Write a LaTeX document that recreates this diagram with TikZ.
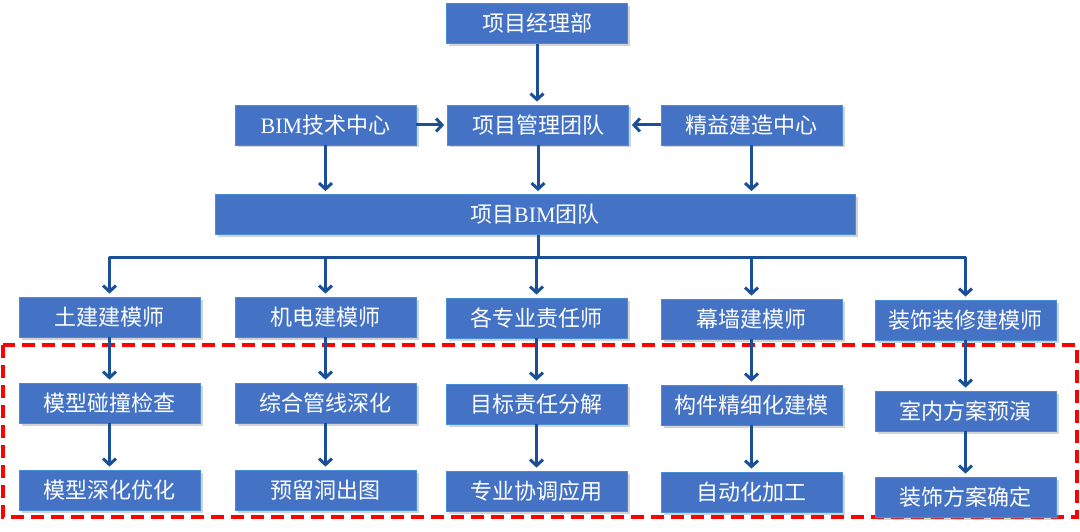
\documentclass[tikz,border=0pt]{standalone}
\usepackage{fontspec}
\newfontfamily\cjk{Noto Sans CJK SC}
\newfontfamily\latin{Liberation Serif}
\usepackage{tikz}
\usetikzlibrary{arrows.meta}
\usetikzlibrary{shadows}
\definecolor{boxblue}{RGB}{68,114,196}
\definecolor{boxedge}{RGB}{75,140,215}
\definecolor{arrowblue}{RGB}{28,80,150}
\newcommand{\bim}{{\latin BIM}}

\begin{document}
\begin{tikzpicture}[x=1pt, y=-1pt, >={Straight Barb[length=6pt,width=13pt]},
  every node/.style={font=\cjk\fontsize{22}{26}\selectfont, text=white},
  box/.style={draw=boxedge, line width=0.8pt, fill=boxblue, minimum width=181pt, minimum height=40pt, inner sep=0pt,
    drop shadow={shadow xshift=2.5pt, shadow yshift=-2.5pt, opacity=0.35}},
  link/.style={->, draw=arrowblue, line width=3pt, shorten >=3pt}]
\useasboundingbox (0,0) rectangle (1080,532);
\def\bus{257}
% red frame
\draw[red, line width=3.2pt, dash pattern=on 13pt off 7pt] (3,345) rectangle (1077,517);
% top
\node[box] (pm) at (537,23.5) {项目经理部};
\node[box] (bimc) at (325.5,125) {\bim 技术中心};
\node[box] (mt) at (538,125) {项目管理团队};
\node[box] (lean) at (751.5,125) {精益建造中心};
\node[box, minimum width=640pt] (team) at (535,214.5) {项目\bim 团队};
% row 3
\node[box] (civ) at (109.5,317) {土建建模师};
\node[box] (mep) at (325.5,317) {机电建模师};
\node[box] (resp) at (536.5,318) {各专业责任师};
\node[box] (wall) at (751.5,319) {幕墙建模师};
\node[box] (deco) at (965.5,320) {装饰装修建模师};
% row 4
\node[box] (civ2) at (109.5,403) {模型碰撞检查};
\node[box] (mep2) at (325.5,403) {综合管线深化};
\node[box] (resp2) at (536.5,404) {目标责任分解};
\node[box] (wall2) at (751.5,405) {构件精细化建模};
\node[box] (deco2) at (965.5,411) {室内方案预演};
% row 5
\node[box] (civ3) at (109.5,490) {模型深化优化};
\node[box] (mep3) at (325.5,490) {预留洞出图};
\node[box] (resp3) at (536.5,491) {专业协调应用};
\node[box] (wall3) at (751.5,492) {自动化加工};
\node[box] (deco3) at (965.5,497) {装饰方案确定};
% arrows
\draw[link] (pm) -- (pm |- mt.north);
\draw[link] (bimc) -- (mt);
\draw[link] (lean) -- (mt);
\draw[link] (bimc) -- (bimc |- team.north);
\draw[link] (mt) -- (mt |- team.north);
\draw[link] (lean) -- (lean |- team.north);
\coordinate (fork) at (team.south |- 0,\bus);
\draw[arrowblue, line width=3pt] (team.south -| mt) -- (mt |- fork);
\draw[arrowblue, line width=3pt, line cap=round] (civ |- fork) -- (deco |- fork);
\foreach \c in {civ,mep,resp,wall,deco}{
  \draw[link] (\c |- fork) -- (\c);
  \draw[link] (\c) -- (\c2);
  \draw[link] (\c2) -- (\c3);
}
\end{tikzpicture}
\end{document}
